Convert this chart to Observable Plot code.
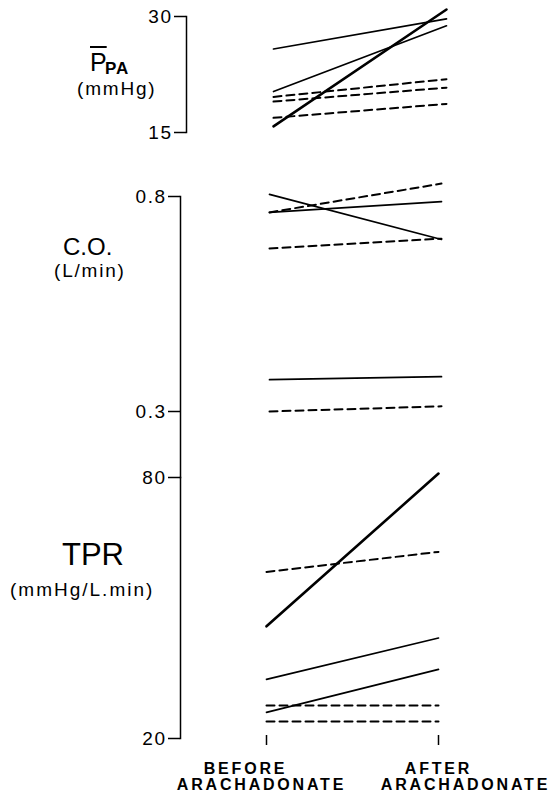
<!DOCTYPE html>
<html><head><meta charset="utf-8">
<script src="https://cdn.jsdelivr.net/npm/d3@7"></script>
<script src="https://cdn.jsdelivr.net/npm/@observablehq/plot@0.6"></script>
<style>
html,body{margin:0;padding:0;background:#fff;}
#chart{position:relative;width:554px;height:796px;overflow:hidden;font-family:"Liberation Sans",Arial,Helvetica,sans-serif;color:#000;}
#chart svg{position:absolute;left:0;overflow:visible;}
#chart svg g[aria-label="y-axis tick label"]{font-size:19px;}
#chart svg g[aria-label="y-axis tick label"] text{letter-spacing:1.5px;}
#chart svg g[aria-label="text"] text{letter-spacing:2.8px;}
.lab{position:absolute;line-height:1;white-space:nowrap;}
</style></head><body>
<div id="chart">
  <div class="lab" style="left:90px;top:50px;font-size:25px;text-decoration:overline;">P</div>
  <div class="lab" style="left:105px;top:60px;font-size:17px;font-weight:bold;letter-spacing:1px;">PA</div>
  <div class="lab" style="left:77px;top:79px;font-size:19px;letter-spacing:1.8px;">(mmHg)</div>
  <div class="lab" style="left:63px;top:235px;font-size:24px;">C.O.</div>
  <div class="lab" style="left:54px;top:261px;font-size:19px;letter-spacing:1.8px;">(L/min)</div>
  <div class="lab" style="left:62px;top:539px;font-size:31px;">TPR</div>
  <div class="lab" style="left:10px;top:580px;font-size:19px;letter-spacing:2px;">(mmHg/L.min)</div>
</div>
<script>
// ---- data ----
const phases = [0, 1]; // 0 = before, 1 = after arachadonate
const xLine1 = ["BEFORE", "AFTER"];
const xLine2 = ["ARACHADONATE", "ARACHADONATE"];

const ppaTicks = [15, 30];
const ppaBefore = [25.8, 20.3, 15.8, 19.6, 19.0, 16.9];
const ppaAfter  = [29.7, 28.8, 30.9, 21.9, 20.8, 18.7];
const ppaGroup  = ["A", "A", "A", "B", "B", "B"];

const coTicks = [0.3, 0.8];
const coBefore = [0.805, 0.763, 0.763, 0.679, 0.374, 0.300];
const coAfter  = [0.700, 0.788, 0.830, 0.702, 0.381, 0.312];
const coGroup  = ["A", "A", "B", "B", "A", "B"];

const tprTicks = [20, 80];
const tprBefore = [45.8, 58.3, 33.6, 26.0, 27.6, 23.9];
const tprAfter  = [80.9, 62.9, 43.1, 35.9, 27.6, 23.9];
const tprGroup  = ["A", "B", "A", "A", "B", "B"];

// ---- build ----
function rows(before, after, group) {
  return before.flatMap((b, i) => [
    {id: i, x: phases[0], y: b, g: group[i]},
    {id: i, x: phases[1], y: after[i], g: group[i]}
  ]);
}
const FONT = '"Liberation Sans",Arial,Helvetica,sans-serif';

function panel(o) {
  const data = rows(o.before, o.after, o.group);
  const solid = data.filter(d => d.g === "A" && !o.emph.includes(d.id));
  const heavy = data.filter(d => d.g === "A" && o.emph.includes(d.id));
  const dashed = data.filter(d => d.g === "B");
  const svg = Plot.plot({
    width: 554, height: o.height,
    marginTop: o.marginTop, marginBottom: o.marginBottom, marginLeft: o.left, marginRight: 0,
    x: {type: "linear", domain: [0, 1], range: o.xRange, ...(o.xAxis ? {} : {axis: null})},
    y: {type: "linear", domain: o.domain, range: o.yRange},
    style: {fontFamily: FONT, fontSize: "18px", color: "#000", background: "transparent", overflow: "visible"},
    marks: [
      Plot.frame({anchor: "left", stroke: "#000", strokeWidth: 1.5}),
      Plot.axisY({ticks: o.ticks, tickSize: 12, tickPadding: 2, strokeWidth: 1.5, tickFormat: d => String(d), label: null}),
      Plot.line(dashed, {x: "x", y: "y", z: "id", stroke: "#000", strokeWidth: 2, strokeDasharray: "8,5"}),
      Plot.line(solid, {x: "x", y: "y", z: "id", stroke: "#000", strokeWidth: 1.7}),
      Plot.line(heavy, {x: "x", y: "y", z: "id", stroke: "#000", strokeWidth: 2.6}),
      ...(o.xAxis ? o.xAxis : [])
    ]
  });
  svg.style.top = o.top + "px";
  document.getElementById("chart").appendChild(svg);
}

panel({top: 0, height: 150, marginTop: 16, marginBottom: 18, left: 186,
  xRange: [273, 446], domain: [15, 30], yRange: [132, 16], ticks: ppaTicks,
  before: ppaBefore, after: ppaAfter, group: ppaGroup, emph: [2]});

panel({top: 150, height: 327, marginTop: 46, marginBottom: 0, left: 180,
  xRange: [269, 441], domain: [0.3, 0.8], yRange: [261, 46], ticks: coTicks,
  before: coBefore, after: coAfter, group: coGroup, emph: []});

const lab = (text, x, dx, dy) => Plot.text([text], {x: x, text: d => d, frameAnchor: "bottom", lineAnchor: "top", dx, dy, fontWeight: "bold", fontSize: 16});

panel({top: 477, height: 319, marginTop: 0, marginBottom: 58, left: 180,
  xRange: [266, 438], domain: [20, 80], yRange: [261, 0], ticks: tprTicks,
  before: tprBefore, after: tprAfter, group: tprGroup, emph: [0],
  xAxis: [
    Plot.axisX({ticks: phases, tickSize: 10, dy: -3, strokeWidth: 1.5, tickFormat: () => "", label: null}),
    lab(xLine1[0], phases[0], -21, 24),
    lab(xLine1[1], phases[1], 0, 24),
    lab(xLine2[0], phases[0], -5, 40),
    lab(xLine2[1], phases[1], 27, 40)
  ]});
</script>
</body></html>
